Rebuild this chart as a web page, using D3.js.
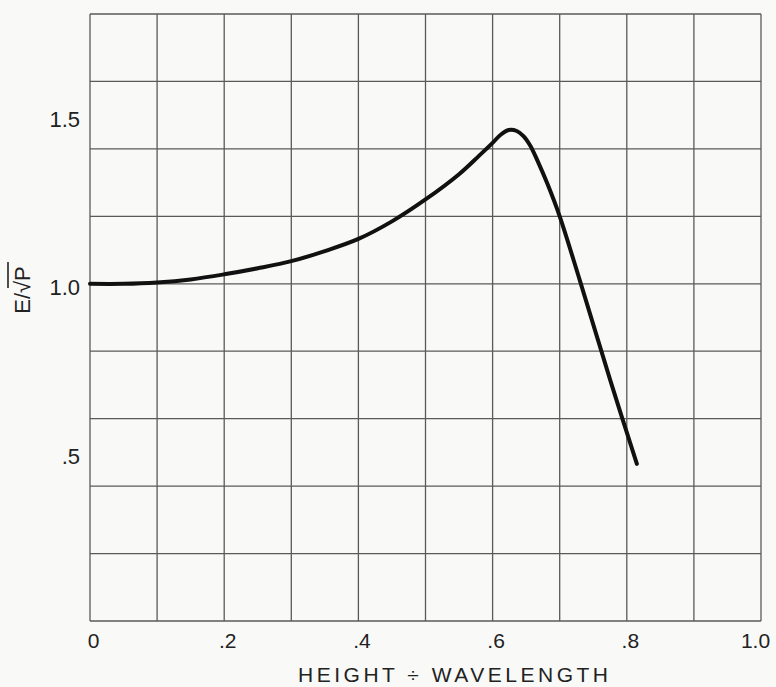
<!DOCTYPE html>
<html>
<head>
<meta charset="utf-8">
<script src="https://cdn.jsdelivr.net/npm/d3@7"></script>
<style>
  html, body { margin: 0; padding: 0; background: #f9f9f8; }
  svg { display: block; }
  text { font-family: "Liberation Sans", "DejaVu Sans", sans-serif; fill: #222; }
</style>
</head>
<body>
<svg id="chart" width="776" height="687"></svg>
<script>
// ---- data ----
const heightRatio = [0, 0.05, 0.1, 0.15, 0.2, 0.25, 0.3, 0.35, 0.4, 0.45, 0.5, 0.55, 0.58, 0.6, 0.612, 0.624, 0.636, 0.646, 0.656, 0.668, 0.682, 0.7, 0.73, 0.776, 0.815];
const fieldRatio  = [1.0, 1.0, 1.004, 1.013, 1.028, 1.046, 1.067, 1.097, 1.133, 1.185, 1.25, 1.325, 1.38, 1.418, 1.442, 1.456, 1.453, 1.438, 1.41, 1.36, 1.295, 1.2, 1.01, 0.71, 0.466];

const xTickValues = [0, 0.2, 0.4, 0.6, 0.8, 1.0];
const xTickLabels = ["0", ".2", ".4", ".6", ".8", "1.0"];
const yTickValues = [0.5, 1.0, 1.5];
const yTickLabels = [".5", "1.0", "1.5"];
const xGridValues = [0, 0.1, 0.2, 0.3, 0.4, 0.5, 0.6, 0.7, 0.8, 0.9, 1.0];
const yGridValues = [0, 0.2, 0.4, 0.6, 0.8, 1.0, 1.2, 1.4, 1.6, 1.8];
const xTitle = "HEIGHT \u00F7 WAVELENGTH";
const yTitle = "E/\u221AP";

// ---- scales ----
const svg = d3.select("#chart");
const x = d3.scaleLinear().domain([0, 1.0]).range([90, 761]);
const y = d3.scaleLinear().domain([0, 1.8]).range([621, 14]);

// ---- grid ----
const grid = svg.append("g").attr("stroke", "#5a5a5a").attr("stroke-width", 1.3);
grid.selectAll("line.v").data(xGridValues).join("line")
  .attr("class", "v")
  .attr("x1", d => x(d)).attr("x2", d => x(d))
  .attr("y1", y(0)).attr("y2", y(1.8));
grid.selectAll("line.h").data(yGridValues).join("line")
  .attr("class", "h")
  .attr("x1", x(0)).attr("x2", x(1))
  .attr("y1", d => y(d)).attr("y2", d => y(d));

// ---- axes (labels only) ----
const xAxis = d3.axisBottom(x).tickValues(xTickValues)
  .tickFormat((d, i) => xTickLabels[i]).tickSize(0).tickPadding(12);
const gx = svg.append("g").attr("transform", `translate(3,${y(0)})`).call(xAxis);
gx.select(".domain").remove();
gx.selectAll("text").style("font-size", "21px").attr("fill", "#222")
  .style("font-family", "'Liberation Sans', sans-serif")
  .attr("dx", (d, i) => i === xTickValues.length - 1 ? -9 : 0);

const yAxis = d3.axisLeft(y).tickValues(yTickValues)
  .tickFormat((d, i) => yTickLabels[i]).tickSize(0).tickPadding(10);
const gy = svg.append("g").attr("transform", `translate(${x(0)},4)`).call(yAxis);
gy.select(".domain").remove();
gy.selectAll("text").style("font-size", "22px").attr("fill", "#222")
  .style("font-family", "'Liberation Sans', sans-serif");

// ---- titles ----
svg.append("text")
  .attr("x", 298).attr("y", 682)
  .attr("textLength", 310).attr("lengthAdjust", "spacing")
  .style("font-size", "21px")
  .text(xTitle);

svg.append("text")
  .attr("transform", "translate(30,290) rotate(-90)")
  .attr("text-anchor", "middle")
  .style("font-size", "22px")
  .text(yTitle);
// overline on the root
svg.append("line")
  .attr("x1", 8).attr("x2", 8)
  .attr("y1", 262).attr("y2", 288)
  .attr("stroke", "#222").attr("stroke-width", 1.6);

// ---- curve ----
const pts = heightRatio.map((h, i) => [h, fieldRatio[i]]);
const line = d3.line().x(d => x(d[0])).y(d => y(d[1])).curve(d3.curveCatmullRom.alpha(0.5));
svg.append("path")
  .attr("d", line(pts))
  .attr("fill", "none")
  .attr("stroke", "#111")
  .attr("stroke-width", 4)
  .attr("stroke-linecap", "round")
  .attr("stroke-linejoin", "round");
</script>
</body>
</html>
